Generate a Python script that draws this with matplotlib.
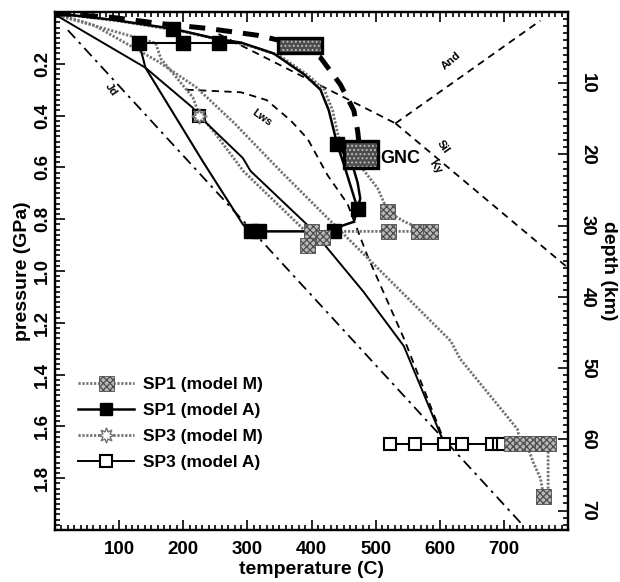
import matplotlib
matplotlib.use("Agg")
import matplotlib.pyplot as plt
from matplotlib.patches import Rectangle
from matplotlib.lines import Line2D
from matplotlib.ticker import MultipleLocator, FixedLocator, FixedFormatter

plt.rcParams['font.family'] = ['Liberation Sans', 'DejaVu Sans']
plt.rcParams['font.weight'] = 'bold'
plt.rcParams['hatch.linewidth'] = 0.9

# ---------------- data (temperature C, pressure GPa) ----------------
jd_T = [20, 729]
jd_P = [0.07, 1.98]

lws_T = [205, 290, 330, 368, 394, 414, 425, 456, 487, 544, 606]
lws_P = [0.30, 0.31, 0.34, 0.42, 0.49, 0.58, 0.63, 0.74, 0.94, 1.26, 1.65]

and_ky_T = [255, 531]
and_ky_P = [0.085, 0.43]
and_sil_T = [531, 757]
and_sil_P = [0.43, 0.033]
ky_sil_T = [531, 800]
ky_sil_P = [0.43, 0.988]

gnc_T = [0, 90, 165, 240, 316, 382, 414, 445, 466, 472, 476]
gnc_P = [0.005, 0.021, 0.045, 0.064, 0.09, 0.128, 0.176, 0.28, 0.38, 0.46, 0.55]

box_T = [[347, 417], [450, 503]]
box_P = [[0.100, 0.157], [0.498, 0.603]]

# SP1 model A
sp1a_T = [0, 90, 184, 255, 290, 341, 388, 414, 427, 435, 440, 452, 462, 472, 466, 442, 435, 318, 305]
sp1a_P = [0.005, 0.03, 0.065, 0.105, 0.118, 0.16, 0.24, 0.30, 0.38, 0.46, 0.51, 0.60, 0.68, 0.76, 0.81, 0.83, 0.847, 0.847, 0.847]
sp1a_loop_T = [440, 465, 472, 476, 472]
sp1a_loop_P = [0.51, 0.60, 0.66, 0.72, 0.76]
sp1a_row_T = [131, 199, 255, 290]
sp1a_row_P = [0.118, 0.118, 0.118, 0.118]
sp1a_b_T = [131, 141, 230, 293, 305]
sp1a_b_P = [0.118, 0.215, 0.575, 0.82, 0.847]
sp1a_mk_T = [184, 131, 199, 255, 440, 472, 435, 305, 318]
sp1a_mk_P = [0.065, 0.118, 0.118, 0.118, 0.51, 0.76, 0.847, 0.847, 0.847]

# SP3 model A
sp3a_T = [0, 141, 215, 224, 293, 305, 399, 481, 544, 601, 607]
sp3a_P = [0.01, 0.215, 0.37, 0.40, 0.564, 0.614, 0.835, 1.08, 1.29, 1.63, 1.667]
sp3a_row_T = [523, 562, 607, 634, 681, 692, 699]
sp3a_row_P = [1.667, 1.667, 1.667, 1.667, 1.667, 1.667, 1.667]
sp3a_mk_T = [224]
sp3a_mk_P = [0.40]

# SP1 model M
sp1m_T = [0, 100, 200, 260, 300, 350, 395, 420, 433, 440, 446, 458, 470, 503, 519, 545, 581, 520, 400]
sp1m_P = [0.005, 0.035, 0.075, 0.11, 0.128, 0.168, 0.245, 0.30, 0.38, 0.46, 0.52, 0.56, 0.575, 0.68, 0.77, 0.81, 0.847, 0.847, 0.847]
sp1m_mk_T = [519, 520, 567, 585, 400, 394, 418]
sp1m_mk_P = [0.77, 0.847, 0.847, 0.847, 0.847, 0.90, 0.87]
sp1m_long_T = [0, 60, 160, 220, 280, 352, 441, 617, 632, 721, 726, 773]
sp1m_long_P = [0.005, 0.05, 0.19, 0.29, 0.43, 0.615, 0.835, 1.27, 1.34, 1.61, 1.667, 1.667]
sp1m_loopL_T = [726, 737, 746, 757, 762]
sp1m_loopL_P = [1.667, 1.68, 1.74, 1.80, 1.87]
sp1m_loopR_T = [769, 769, 762]
sp1m_loopR_P = [1.667, 1.855, 1.87]
sp1m_row_T = [712, 728, 744, 760, 770, 762]
sp1m_row_P = [1.667, 1.667, 1.667, 1.667, 1.667, 1.87]

# SP3 model M
sp3m_T = [0, 100, 157, 165, 190, 215, 224, 250, 294, 388, 396]
sp3m_P = [0.01, 0.08, 0.12, 0.18, 0.255, 0.33, 0.39, 0.47, 0.615, 0.84, 0.89]
sp3m_mk_T = [224, 396]
sp3m_mk_P = [0.40, 0.89]

x_ticks = [100, 200, 300, 400, 500, 600, 700]
p_ticks = [0.2, 0.4, 0.6, 0.8, 1.0, 1.2, 1.4, 1.6, 1.8]
p_labels = ['0.2', '0.4', '0.6', '0.8', '1.0', '1.2', '1.4', '1.6', '1.8']
d_ticks = [10, 20, 30, 40, 50, 60, 70]
km_per_gpa = 1 / 0.0275

legend_labels = ['SP1 (model M)', 'SP1 (model A)', 'SP3 (model M)', 'SP3 (model A)']

# ---------------- figure ----------------
fig = plt.figure(figsize=(6.2, 5.82), dpi=100)
ax = fig.add_axes([55/620, 52/582, 513/620, 518/582])

grey = '0.45'
gls = (0, (0.8, 0.6))
glw = 2.0
star = (8, 1, 0)
stip = dict(marker='s', s=115, facecolor='0.72', edgecolor='0.3', hatch='xxxxx', linewidths=0.6)

# reaction lines
ax.plot(jd_T, jd_P, color='k', lw=1.3, ls=(0, (6, 3, 1.5, 3)))
ax.plot(lws_T, lws_P, color='k', lw=1.3, ls=(0, (4, 3)))
ax.plot(and_ky_T, and_ky_P, color='k', lw=1.3, ls=(0, (4, 3)))
ax.plot(and_sil_T, and_sil_P, color='k', lw=1.3, ls=(0, (4, 3)))
ax.plot(ky_sil_T, ky_sil_P, color='k', lw=1.3, ls=(0, (4, 3)))

# model M paths (grey)
ax.plot(sp1m_long_T, sp1m_long_P, color=grey, lw=glw, ls=gls)
ax.plot(sp1m_loopL_T, sp1m_loopL_P, color=grey, lw=glw, ls=gls)
ax.plot(sp1m_loopR_T, sp1m_loopR_P, color=grey, lw=glw, ls=gls)
ax.plot(sp1m_T, sp1m_P, color=grey, lw=glw, ls=gls)
ax.plot(sp3m_T, sp3m_P, color=grey, lw=glw, ls=gls)

# model A paths (black)
ax.plot(sp3a_T, sp3a_P, color='k', lw=1.4)
ax.plot(sp3a_row_T, sp3a_row_P, color='k', lw=1.4, marker='s', ms=9,
        mfc='white', mec='k', mew=1.5)
ax.plot(sp3a_mk_T, sp3a_mk_P, ls='none', marker='s', ms=9, mfc='white', mec='k', mew=1.5)
ax.plot(sp1a_T, sp1a_P, color='k', lw=1.8)
ax.plot(sp1a_loop_T, sp1a_loop_P, color='k', lw=1.8)
ax.plot(sp1a_row_T, sp1a_row_P, color='k', lw=1.5)
ax.plot(sp1a_b_T, sp1a_b_P, color='k', lw=1.5)
ax.plot(sp1a_mk_T, sp1a_mk_P, ls='none', marker='s', ms=10, mfc='k', mec='k')

# grey stippled markers
ax.scatter(sp1m_mk_T, sp1m_mk_P, zorder=4, **stip)
ax.scatter(sp1m_row_T, sp1m_row_P, zorder=4, **stip)
ax.plot(sp3m_mk_T, sp3m_mk_P, ls='none', marker=star, ms=11, mfc='white', mec=grey, mew=1.2)

# thick dashed path and boxes
ax.plot(gnc_T, gnc_P, color='k', lw=3.6, ls=(0, (3.2, 2.2)))
for bt, bp in zip(box_T, box_P):
    ax.add_patch(Rectangle((bt[0], bp[0]), bt[1]-bt[0], bp[1]-bp[0],
                           facecolor='0.3', edgecolor='0.75', hatch='....', lw=0, zorder=5))
    ax.add_patch(Rectangle((bt[0], bp[0]), bt[1]-bt[0], bp[1]-bp[0],
                           fill=False, edgecolor='k', lw=2.4, zorder=6))

# text labels
ax.text(539, 0.565, 'GNC', fontsize=13, fontweight='bold', ha='center', va='center')
ax.text(87, 0.30, 'Jd', fontsize=8, fontweight='bold', rotation=-55, ha='center', va='center')
ax.text(323, 0.41, 'Lws', fontsize=8, fontweight='bold', rotation=-35, ha='center', va='center')
ax.text(617, 0.19, 'And', fontsize=8, fontweight='bold', rotation=40, ha='center', va='center')
ax.text(606, 0.52, 'Sil', fontsize=8, fontweight='bold', rotation=-55, ha='center', va='center')
ax.text(593, 0.60, 'Ky', fontsize=8, fontweight='bold', rotation=-55, ha='center', va='center')

# axes
ax.set_xlim(0, 800)
ax.set_ylim(2.0, 0)
ax.xaxis.set_major_locator(FixedLocator(x_ticks))
ax.xaxis.set_minor_locator(MultipleLocator(10))
ax.yaxis.set_major_locator(FixedLocator(p_ticks))
ax.yaxis.set_major_formatter(FixedFormatter(p_labels))
ax.yaxis.set_minor_locator(MultipleLocator(0.02))
ax.tick_params(axis='both', which='both', direction='in', top=True, width=1.2)
ax.tick_params(axis='both', which='major', length=7, labelsize=13.5)
ax.tick_params(axis='both', which='minor', length=3.5)
ax.tick_params(axis='x', which='major', pad=8)
ax.tick_params(axis='y', which='major', pad=3)
for lab in ax.get_yticklabels():
    lab.set_rotation(90)
    lab.set_va('center')
    lab.set_fontweight('bold')
for lab in ax.get_xticklabels():
    lab.set_fontweight('bold')
for s in ax.spines.values():
    s.set_linewidth(1.6)
ax.set_xlabel('temperature (C)', fontsize=14, fontweight='bold', labelpad=2)
ax.set_ylabel('pressure (GPa)', fontsize=14, fontweight='bold', labelpad=2)

ax2 = ax.twinx()
ax2.set_ylim(2.0 * km_per_gpa, 0)
ax2.yaxis.set_major_locator(FixedLocator(d_ticks))
ax2.yaxis.set_minor_locator(MultipleLocator(1))
ax2.tick_params(axis='y', which='both', direction='in', width=1.2)
ax2.tick_params(axis='y', which='major', length=7, labelsize=13.5, pad=8)
ax2.tick_params(axis='y', which='minor', length=3.5)
for lab in ax2.get_yticklabels():
    lab.set_rotation(-90)
    lab.set_va('center')
    lab.set_fontweight('bold')
for s in ax2.spines.values():
    s.set_linewidth(1.6)
ax2.set_ylabel('depth (km)', fontsize=14, fontweight='bold', rotation=-90, labelpad=15)

# legend
sc_h1 = ax.scatter([], [], **stip)
handles = [
    (Line2D([], [], color=grey, lw=glw, ls=gls), sc_h1),
    Line2D([], [], color='k', lw=1.8, marker='s', ms=9, mfc='k', mec='k'),
    Line2D([], [], color=grey, lw=glw, ls=gls, marker=star, ms=11, mfc='white', mec=grey),
    Line2D([], [], color='k', lw=1.4, marker='s', ms=9, mfc='white', mec='k', mew=1.5),
]
leg = ax.legend(handles, legend_labels, loc='upper left', bbox_to_anchor=(0.015, 0.325),
                frameon=False, handlelength=3.2, labelspacing=0.62, handletextpad=0.5,
                scatteryoffsets=[0.5],
                prop={'family': 'Liberation Sans', 'weight': 'bold', 'size': 12.5})

fig.savefig('out.png', dpi=100)
